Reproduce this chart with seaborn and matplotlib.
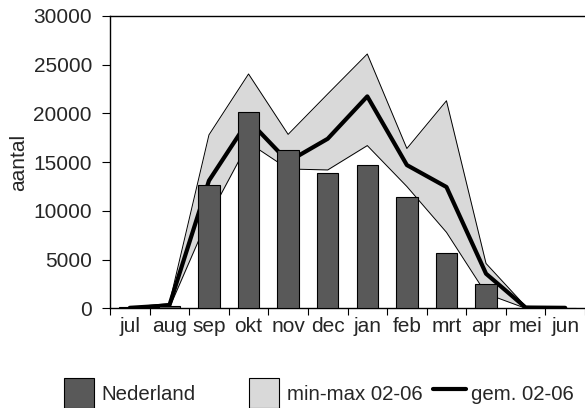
import numpy as np
import pandas as pd
import matplotlib
matplotlib.use("Agg")
import matplotlib.pyplot as plt
from matplotlib.patches import Patch
from matplotlib.lines import Line2D
import seaborn as sns

# maanden (jul t/m jun)
months = ["jul", "aug", "sep", "okt", "nov", "dec", "jan", "feb", "mrt", "apr", "mei", "jun"]

# aantallen Nederland (staven)
nederland = [100, 270, 12700, 20100, 16250, 13900, 14750, 11400, 5700, 2450, 0, 0]

# seizoenen 02-06: min, max en gemiddelde
minimum = [0, 50, 9400, 17000, 14300, 14200, 16700, 12500, 7800, 1500, 0, 0]
maximum = [100, 500, 17800, 24050, 17850, 22000, 26100, 16400, 21300, 4600, 200, 100]
gemiddeld = [50, 300, 13100, 19300, 15050, 17400, 21750, 14700, 12450, 3550, 80, 50]

df = pd.DataFrame({"maand": months, "nederland": nederland,
                   "min": minimum, "max": maximum, "gem": gemiddeld})

sns.set_style("white")
plt.rcParams["font.family"] = ["Liberation Sans", "DejaVu Sans"]
fs = 15.0
fs_leg = 14.7

fig = plt.figure(figsize=(5.85, 4.08), dpi=100)
ax = fig.add_axes([110 / 585, 1 - 308.3 / 408, 475 / 585, (308.3 - 16) / 408])

pos = np.arange(len(months))

# band min-max
ax.fill_between(pos, df["min"], df["max"], color="#d9d9d9", zorder=1, linewidth=0)
ax.plot(pos, df["max"], color="black", lw=0.7, zorder=2)
ax.plot(pos, df["min"], color="black", lw=0.7, zorder=2)

# gemiddelde
sns.lineplot(x=pos, y=df["gem"], color="black", lw=3, ax=ax, zorder=3)

# staven
sns.barplot(x=pos, y=df["nederland"], color="#595959", saturation=1, width=0.54,
            edgecolor="black", linewidth=0.8, ax=ax, zorder=4)

ax.set_xlim(-0.5, 11.5)
ax.set_ylim(0, 30000)
ax.set_yticks(np.arange(0, 30001, 5000))
ax.set_yticklabels([str(v) for v in range(0, 30001, 5000)], fontsize=fs)

ax.set_xticks(np.arange(-0.5, 12, 1))
ax.set_xticklabels([])
ax.set_xticks(pos, minor=True)
ax.set_xticklabels(months, minor=True, fontsize=fs)
ax.tick_params(axis="x", which="major", direction="out", length=5, width=0.8, color="black", bottom=True)
ax.tick_params(axis="x", which="minor", length=0, pad=6)
ax.tick_params(axis="y", direction="out", length=6, width=0.8, color="black", pad=7, left=True)

ax.set_xlabel("")
ax.set_ylabel("aantal", fontsize=fs, labelpad=4)

for s in ["left", "bottom", "top"]:
    ax.spines[s].set_color("black")
    ax.spines[s].set_linewidth(1.0)
ax.spines["right"].set_visible(False)

# legenda in drie losse delen
items = [
    (Patch(facecolor="#595959", edgecolor="black", lw=0.8), "Nederland", 64, 1.46, 0.37),
    (Patch(facecolor="#d9d9d9", edgecolor="black", lw=0.8), "min-max 02-06", 249.3, 1.46, 0.37),
    (Line2D([], [], color="black", lw=3), "gem. 02-06", 433.3, 1.62, 0.25),
]
for h, lab, x0, hl, tp in items:
    fig.legend([h], [lab], loc="center left", bbox_to_anchor=(x0 / 585, 1 - 393 / 408),
               frameon=False, fontsize=fs_leg, borderpad=0, borderaxespad=0,
               handlelength=hl, handleheight=1.84, handletextpad=tp)

fig.savefig("out.png", dpi=100)
